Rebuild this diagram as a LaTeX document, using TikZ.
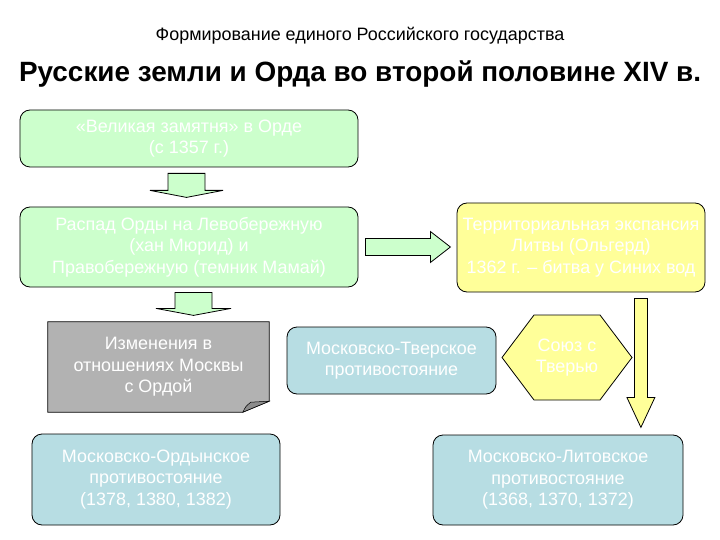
\documentclass[tikz,border=0pt]{standalone}
\usepackage{fontspec}
\setmainfont{Liberation Sans}
\usetikzlibrary{calc}
\definecolor{grnfill}{HTML}{CCFFCC}
\definecolor{yelfill}{HTML}{FFFF99}
\definecolor{blufill}{HTML}{B7DDE3}
\definecolor{gryfill}{HTML}{B2B2B2}
\definecolor{gryfold}{HTML}{8C8C8C}
\begin{document}
\begin{tikzpicture}[
  x=1bp, y=-1bp,
  box/.style={draw, rounded corners=10bp, line width=0.8pt, align=center,
    text=white, inner sep=2pt, font=\fontsize{18}{21.5}\selectfont},
  grnbox/.style={box, fill=grnfill, minimum width=338bp},
  yelbox/.style={box, fill=yelfill},
  blubox/.style={box, fill=blufill},
  lbl/.style={align=center, text=white, font=\fontsize{18}{21.5}\selectfont},
  barr/.style={draw, line width=0.8pt, line join=miter}
]
\useasboundingbox (0,0) rectangle (720,540);
\node[font=\fontsize{18}{21}\selectfont] (sub) at (360,36)
  {Формирование единого Российского государства};
\node[font=\bfseries\fontsize{28}{32}\selectfont] (ttl) at (360,74)
  {Русские земли и Орда во второй половине XIV в.};
\node[grnbox, minimum height=57bp] (zam) at (189,138.5)
  {«Великая замятня» в Орде\\(с 1357 г.)};
\node[grnbox, minimum height=80bp] (rasp) at (189,247)
  {Распад Орды на Левобережную\\(хан Мюрид) и\\Правобережную (темник Мамай)};
\node[yelbox, minimum width=248bp, minimum height=89bp] (lit) at (581,247.5)
  {Территориальная экспансия\\Литвы (Ольгерд)\\1362 г. -- битва у Синих вод};
% folded gray note
\node[lbl, minimum width=221bp, minimum height=90bp] (izm) at (158.5,367) {};
\node[blubox, minimum width=209bp, minimum height=67bp] (tver) at (391.5,360.5)
  {Московско-Тверское\\противостояние};
\coordinate (hx) at (567,357.5);
\node[blubox, minimum width=248bp, minimum height=91bp] (ord) at (156,479.5)
  {Московско-Ордынское\\противостояние\\(1378, 1380, 1382)};
\node[blubox, minimum width=250bp, minimum height=90bp] (mlit) at (558,480)
  {Московско-Литовское\\противостояние\\(1368, 1370, 1372)};
% arrows
\draw[barr, fill=grnfill] ($(zam.south)+(-21,6)$) -- ++(37,0) -- ++(0,17)
  -- ++(18,0) -- ++(-36.5,7) -- ++(-36.5,-7) -- ++(18,0) -- cycle;
\draw[barr, fill=grnfill] ($(rasp.south)+(-14,5)$) -- ++(37,0) -- ++(0,16)
  -- ++(19,0) -- ++(-37.5,7) -- ++(-37.5,-7) -- ++(19,0) -- cycle;
\draw[barr, fill=grnfill] ($(rasp.east)+(7,-8.5)$) -- ++(65,0) -- ++(0,-7)
  -- ++(20,15.5) -- ++(-20,15.5) -- ++(0,-7) -- ++(-65,0) -- cycle;
\draw[barr, fill=yelfill] ($(lit.south east)+(-71,6)$) -- ++(13,0) -- ++(0,99)
  -- ++(7.5,0) -- ++(-14,30) -- ++(-14,-30) -- ++(7.5,0) -- cycle;
% gray note outline
\draw[barr, fill=gryfill] (izm.north west) -- (izm.north east)
  -- ($(izm.south east)+(0,-11)$) -- ($(izm.south west)+(195,0)$)
  -- (izm.south west) -- cycle;
\fill[gryfold, draw=black, line width=0.5pt] ($(izm.south west)+(195,0)$)
  .. controls ($(izm.south west)+(198,-6)$) .. ($(izm.south west)+(203,-10)$)
  -- ($(izm.south east)+(0,-11)$) -- cycle;
\node[lbl] (izmtxt) at (izm) {Изменения в\\отношениях Москвы\\с Ордой};
% hexagon
\draw[barr, fill=yelfill] (hx) ++(-65,0) -- ++(32,-42.5) -- ++(66,0)
  -- ++(32,42.5) -- ++(-32,42.5) -- ++(-66,0) -- cycle;
\node[lbl] (soyuz) at (hx) {Союз с\\Тверью};
\end{tikzpicture}
\end{document}
